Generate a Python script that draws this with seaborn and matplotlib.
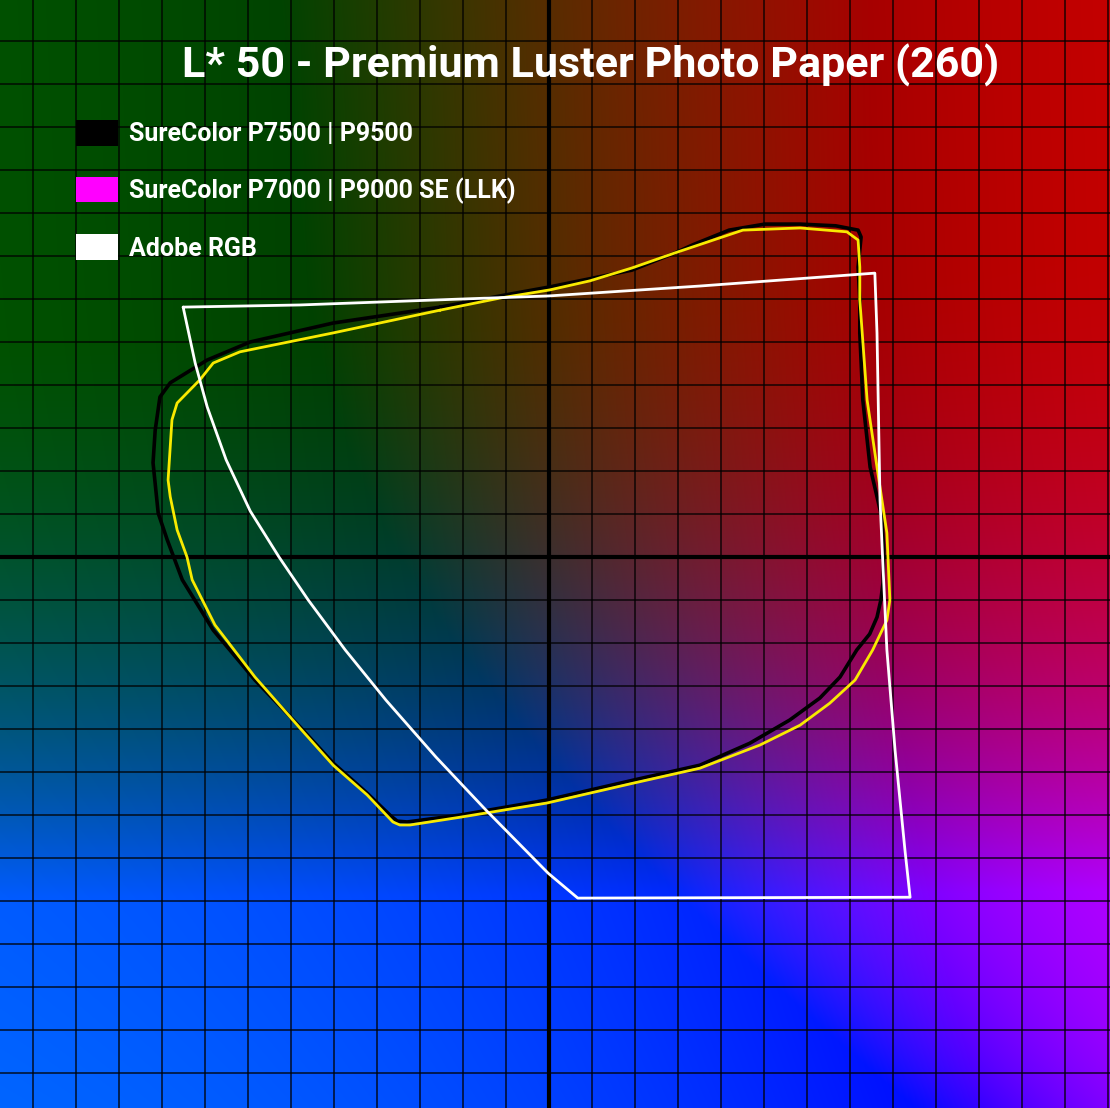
import numpy as np
import pandas as pd
import matplotlib
matplotlib.use("Agg")
import matplotlib.pyplot as plt
from matplotlib.patches import Patch
import seaborn as sns

# gamut outlines at L* 50 (a*, b*)
p7500_a = [-25.3, -11.4, 0.2, 9.5, 19.3, 29.3, 33.5, 41.9, 50.2, 58.4, 66.7, 71.9, 72.6, 71.9, 72.3,
           72.3, 73.0, 74.7, 77.4, 77.9, 77.7, 77.2, 76.3, 74.6, 71.6, 67.7, 63.0, 56.0, 46.7, 35.1,
           19.5, -0.5, -20.7, -33.0, -35.3, -36.8, -42.3, -50.2, -57.9, -68.4, -78.1, -85.3, -88.8,
           -90.9, -92.1, -91.6, -90.5, -88.1, -79.5, -69.5, -50.2]
p7500_b = [58.1, 60.7, 62.8, 64.7, 66.7, 70.7, 72.6, 76.0, 77.4, 77.4, 77.0, 76.0, 74.4, 67.4, 59.8,
           52.1, 36.5, 20.9, 9.3, 1.6, -6.0, -10.0, -14.0, -17.9, -21.6, -27.9, -32.8, -37.9, -43.3, -48.4,
           -51.9, -56.5, -60.0, -61.6, -61.4, -60.2, -54.9, -47.9, -39.5, -28.6, -17.0, -5.3, 4.0,
           10.2, 21.9, 29.5, 37.2, 40.5, 45.8, 50.0, 54.4]

p7000_a = [-25.3, -11.4, 0.2, 9.5, 19.3, 29.3, 45.1, 58.4, 69.3, 71.9, 72.3, 72.3, 74.0, 76.3, 78.6,
           79.3, 78.6, 75.3, 71.2, 65.3, 58.4, 49.1, 35.1, 19.5, -0.5, -20.7, -32.3, -34.7, -36.3,
           -42.3, -50.2, -57.9, -68.4, -77.7, -83.0, -84.2, -86.5, -88.1, -88.6, -87.7, -86.5, -81.2,
           -78.1, -71.9, -50.2]
p7000_b = [57.4, 60.2, 62.1, 64.2, 67.2, 70.7, 76.0, 76.5, 75.6, 73.7, 67.4, 59.8, 36.5, 20.9, 5.6,
           -10.0, -14.7, -21.6, -28.6, -34.0, -39.1, -43.7, -49.1, -52.6, -57.2, -60.5, -62.3, -62.3, -61.6,
           -55.3, -48.4, -39.8, -27.9, -15.8, -5.3, 0.0, 6.3, 14.0, 17.9, 31.9, 35.8, 41.2,
           45.1, 47.7, 52.1]

adobe_a = [-85.1, -82.3, -79.5, -75.1, -69.5, -62.8, -56.0, -47.4, -37.9, -26.3, -14.7, -0.2, 6.7,
           84.0, 82.8, 80.5, 78.6, 77.7, 77.0, 76.3, 75.8, 35.1, 0.0, -25.3, -57.9]
adobe_b = [58.1, 45.1, 34.9, 22.6, 10.7, 0.0, -10.0, -21.6, -33.3, -46.5, -58.8, -73.5, -79.3,
           -79.1, -68.1, -44.9, -21.6, -2.3, 13.3, 52.1, 66.0, 63.0, 60.7, 59.8, 58.6]

series_names = ["SureColor P7500 | P9500", "SureColor P7000 | P9000 SE (LLK)", "Adobe RGB"]
legend_colors = ["#000000", "#ff00ff", "#ffffff"]
line_colors = ["#000000", "#f8ea00", "#ffffff"]

title = "L* 50 - Premium Luster Photo Paper (260)"


def lab_plane(L, a, b):
    # Lab -> XYZ (D65) -> linear RGB, red softly compressed like the original background
    fy = (L + 16) / 116
    fx = fy + a / 500
    fz = fy - b / 200
    d = 6 / 29

    def finv(t):
        return np.where(t > d, t ** 3, 3 * d ** 2 * (t - 4 / 29))

    X = 0.95047 * finv(fx)
    Y = finv(fy) * np.ones_like(a)
    Z = 1.08883 * finv(fz)
    M = np.array([[3.2406, -1.5372, -0.4986],
                  [-0.9689, 1.8758, 0.0415],
                  [0.0557, -0.2040, 1.0570]])
    rgb = np.stack([X, Y, Z], axis=-1) @ M.T
    rgb = np.clip(rgb, 0, None)
    rgb[..., 0] = 0.82 * (1 - np.exp(-rgb[..., 0] / 0.55))
    return np.clip(rgb, 0, 1)


def closed(name, a, b):
    a = list(a) + [a[0]]
    b = list(b) + [b[0]]
    return pd.DataFrame({"series": name, "a": a, "b": b, "order": range(len(a))})


df = pd.concat([closed(series_names[0], p7500_a, p7500_b),
                closed(series_names[1], p7000_a, p7000_b),
                closed(series_names[2], adobe_a, adobe_b)], ignore_index=True)

sns.set_theme(style="white")

fig = plt.figure(figsize=(11.1, 11.08), dpi=100)
ax = fig.add_axes([0, 0, 1, 1])

xlim = (-127.7, 130.5)
ylim = (-128.1, 129.5)

# L* 50 colour plane in the background
aa, bb = np.meshgrid(np.linspace(xlim[0], xlim[1], 600), np.linspace(ylim[1], ylim[0], 600))
bg = lab_plane(50.0, aa, bb)
ax.imshow(bg, extent=[xlim[0], xlim[1], ylim[0], ylim[1]], aspect="auto",
          interpolation="bilinear", zorder=0)

ax.set_xticks(np.arange(-120, 131, 10))
ax.set_yticks(np.arange(-120, 131, 10))
ax.grid(True, color="black", linewidth=1.1, alpha=0.85, zorder=1)
ax.set_axisbelow(False)
ax.tick_params(length=0, labelbottom=False, labelleft=False)
ax.axhline(0, color="black", linewidth=3, zorder=2)
ax.axvline(0, color="black", linewidth=3, zorder=2)

widths = [2.6, 2.0, 2.0]
for name, col, lw, z in zip(series_names, line_colors, widths, [3, 4, 5]):
    sns.lineplot(data=df[df["series"] == name], x="a", y="b", sort=False, estimator=None,
                 color=col, linewidth=lw, ax=ax, zorder=z)

ax.set_xlim(*xlim)
ax.set_ylim(*ylim)
ax.set_xlabel("")
ax.set_ylabel("")
for s in ax.spines.values():
    s.set_visible(False)

fonts = ["Liberation Sans Narrow", "Roboto", "DejaVu Sans"]
ax.text(0.532, 1 - 65 / 1108, title, transform=ax.transAxes, ha="center", va="center",
        color="white", fontsize=31, fontweight="bold", family=fonts, zorder=6)

handles = [Patch(facecolor=c, edgecolor="none") for c in legend_colors]
leg = ax.legend(handles, series_names, loc="upper left", bbox_to_anchor=(76 / 1110, 1 - 120 / 1108),
                frameon=False, borderpad=0, borderaxespad=0, handlelength=1.68, handleheight=1.2,
                handletextpad=0.45, labelspacing=1.22,
                prop={"family": fonts, "weight": "bold", "size": 18})
for t in leg.get_texts():
    t.set_color("white")
leg.set_zorder(6)

fig.savefig("out.png", dpi=100)
